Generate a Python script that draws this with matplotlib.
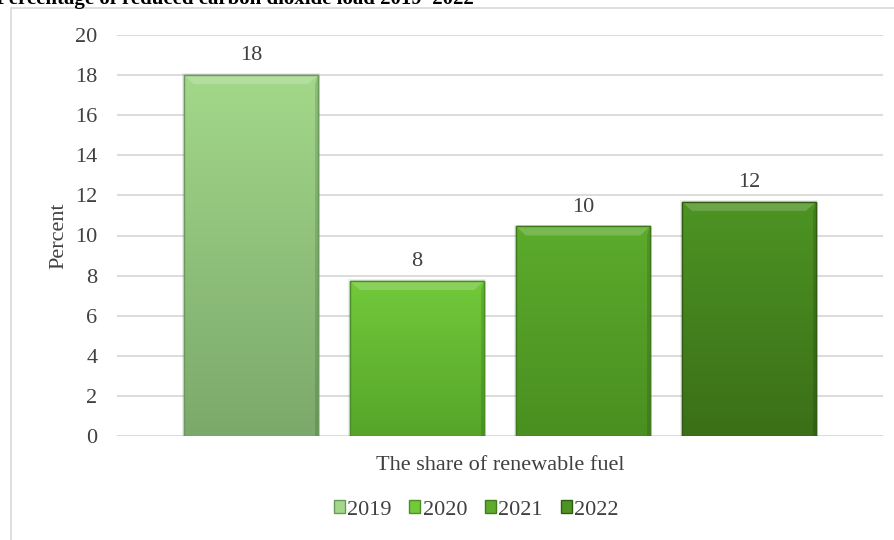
import matplotlib
matplotlib.use('Agg')
import matplotlib.pyplot as plt
import matplotlib.colors as mcolors
from matplotlib.patches import Rectangle, Polygon
import numpy as np

plt.rcParams['font.family'] = ['Liberation Serif', 'DejaVu Serif']

years = ['2019', '2020', '2021', '2022']
values = [18.0, 7.73, 10.45, 11.68]
top_colors = ['#a3d88a', '#72c93a', '#5cab2c', '#4d9423']
bottom_colors = ['#7ba96b', '#56a52a', '#4a8f21', '#3b6f18']
edge_colors = ['#6a9a5c', '#4a8f24', '#3f7a1c', '#2f5c12']

title = 'Percentage of reduced carbon dioxide load 2019\u20132022'
xlabel = 'The share of renewable fuel'
ylabel = 'Percent'

fs = 16
txt = '#404040'

fig = plt.figure(figsize=(8.95, 5.4), dpi=100)
fig.patch.set_facecolor('white')

# chart area frame (only left and top edges visible in the crop)
fig.add_artist(Rectangle((11 / 895, -0.1), 1.2, 1.1 - 8 / 540, transform=fig.transFigure,
                         facecolor='none', edgecolor='#d9d9d9', linewidth=1.2))

fig.text(-0.004, 1 - 4 / 540, title, fontsize=15, fontweight='bold', va='baseline', ha='left')

ax = fig.add_axes([117 / 895, 1 - 436 / 540, 766 / 895, 401 / 540])
x = np.arange(len(years))
width = 0.807
ax.set_xlim(1.5 - 2.307, 1.5 + 2.307)
ax.set_ylim(0, 20)
ax.set_yticks(range(0, 21, 2))
ax.grid(axis='y', color='#d9d9d9', linewidth=1.3)
ax.set_axisbelow(True)
for s in ax.spines.values():
    s.set_visible(False)
ax.tick_params(axis='y', length=0, pad=14, labelsize=fs, labelcolor=txt)
ax.tick_params(axis='x', length=0, labelbottom=False)

grad = np.linspace(1, 0, 256).reshape(-1, 1)
handles = []
for i, (xi, v) in enumerate(zip(x, values)):
    left = xi - width / 2
    # soft shadow
    ax.add_patch(Rectangle((left - 0.012, 0), width + 0.024, v + 0.08,
                           facecolor='#000000', alpha=0.07, edgecolor='none', zorder=2))
    bar = ax.bar(xi, v, width=width, color=top_colors[i], edgecolor=edge_colors[i],
                 linewidth=1.0, zorder=3, label=years[i])
    cmap = mcolors.LinearSegmentedColormap.from_list('g%d' % i, [bottom_colors[i], top_colors[i]])
    im = ax.imshow(grad, cmap=cmap, aspect='auto', extent=[left, left + width, 0, v],
                   zorder=3.5, interpolation='bicubic')
    im.set_clip_path(bar.patches[0])
    # bevel along the top
    bx, by = 0.06, 0.45
    ax.add_patch(Polygon([[left, v], [left + width, v], [left + width - bx, v - by], [left + bx, v - by]],
                         closed=True, facecolor='white', alpha=0.18, edgecolor='none', zorder=4))
    ax.add_patch(Polygon([[left + width, v], [left + width, 0], [left + width - 0.02, 0],
                          [left + width - 0.02, v - by]],
                         closed=True, facecolor='black', alpha=0.12, edgecolor='none', zorder=4))
    ax.add_patch(Rectangle((left, 0), width, v, facecolor='none', edgecolor=edge_colors[i],
                           linewidth=1.0, zorder=5))
    ax.annotate(f'{v:.0f}', (xi, v), xytext=(0, 7), textcoords='offset points',
                ha='center', va='bottom', fontsize=fs, color=txt)
    handles.append(Rectangle((0, 0), 1, 1, facecolor=top_colors[i], edgecolor=edge_colors[i]))

ax.set_ylabel(ylabel, fontsize=fs, color=txt)
ax.yaxis.set_label_coords(-0.063, 0.5)
fig.text(500 / 895, 1 - 466 / 540, xlabel, fontsize=fs, color=txt, ha='center', va='center')

fig.legend(handles, years, loc='center', bbox_to_anchor=(476 / 895, 1 - 510 / 540), ncol=4,
           frameon=False, fontsize=fs, handlelength=0.5, handleheight=0.5, handletextpad=0.1,
           columnspacing=0.8, labelcolor=txt)

fig.savefig('out.png', dpi=100, facecolor='white')
